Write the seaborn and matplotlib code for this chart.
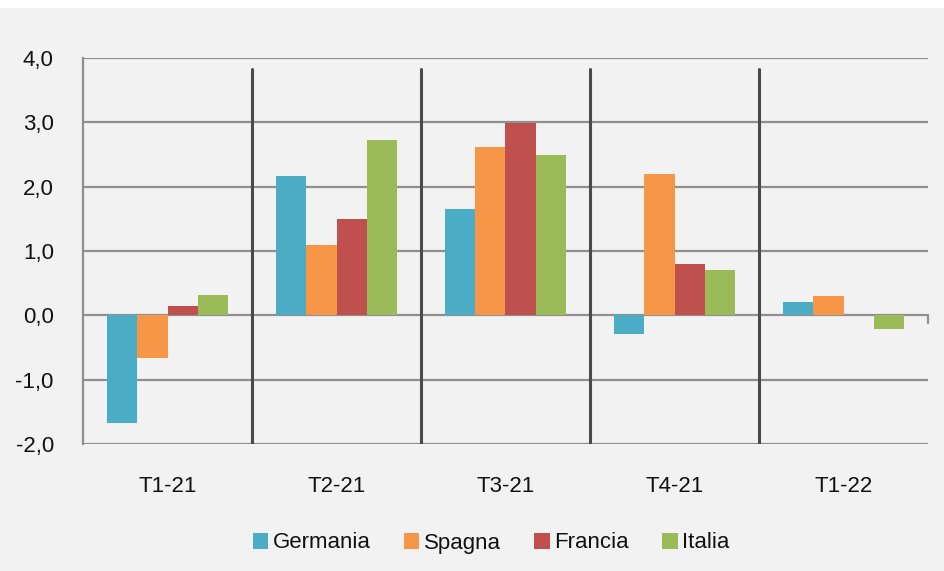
import pandas as pd
import seaborn as sns
import matplotlib.pyplot as plt
from matplotlib.patches import Rectangle

# data
trimestri = ['T1-21', 'T2-21', 'T3-21', 'T4-21', 'T1-22']
paesi = ['Germania', 'Spagna', 'Francia', 'Italia']
germania = [-1.68, 2.16, 1.66, -0.29, 0.20]
spagna = [-0.66, 1.10, 2.62, 2.20, 0.30]
francia = [0.14, 1.49, 2.99, 0.80, 0.00]
italia = [0.31, 2.73, 2.50, 0.71, -0.21]
colori = ['#4bacc6', '#f79646', '#c0504d', '#9bbb59']
yticks = [-2, -1, 0, 1, 2, 3, 4]

df = pd.DataFrame({
    'trimestre': trimestri * 4,
    'paese': [p for p in paesi for _ in trimestri],
    'valore': germania + spagna + francia + italia,
})

sns.set_theme(style='white')
plt.rcParams['font.family'] = ['Liberation Sans', 'DejaVu Sans']

bg = '#f2f2f2'
fig = plt.figure(figsize=(9.44, 5.71), dpi=100, facecolor=bg)
ax = fig.add_axes([83 / 944, 1 - 444 / 571, (928 - 83) / 944, (444 - 58) / 571])
ax.set_facecolor(bg)

# top white strip of the original picture
fig.patches.append(Rectangle((0, 1 - 8 / 571), 1, 8 / 571, transform=fig.transFigure,
                             facecolor='white', edgecolor='none', zorder=0))

sns.barplot(data=df, x='trimestre', y='valore', hue='paese', order=trimestri,
            hue_order=paesi, palette=colori, width=0.72, gap=0, saturation=1,
            errorbar=None, ax=ax, zorder=3, legend=False, linewidth=0,
            edgecolor='none')

grid_col = '#8f8f8f'
ax.set_ylim(-2, 4)
ax.set_xlim(-0.5, 4.5)
for v in yticks:
    ax.axhline(v, color=grid_col, lw=1.6, zorder=1)
# little tick at the right end of the zero line
ax.plot([4.5, 4.5], [0, -0.12], color=grid_col, lw=1.6, clip_on=False, zorder=1)

# dark separators between quarters
for x in [0.5, 1.5, 2.5, 3.5]:
    ax.axvline(x, ymin=0, ymax=(3.83 + 2) / 6, color='#4a4a4a', lw=2.2, zorder=2)

for s in ['top', 'right', 'bottom']:
    ax.spines[s].set_visible(False)
ax.spines['left'].set_color(grid_col)
ax.spines['left'].set_linewidth(1.6)

ax.set_yticks(yticks)
ax.set_yticklabels([f'{v:.1f}'.replace('.', ',') for v in yticks])
ax.tick_params(axis='y', length=0, pad=21, labelsize=16, labelcolor='#111111')
ax.tick_params(axis='x', length=0, pad=23, labelsize=16, labelcolor='#111111')
ax.set_xlabel('')
ax.set_ylabel('')

handles = [Rectangle((0, 0), 1, 1, facecolor=c, edgecolor='none') for c in colori]
fig.legend(handles, paesi, loc='center', bbox_to_anchor=(491 / 944, 1 - 543 / 571),
           ncol=4, frameon=False, fontsize=16, handlelength=0.7, handleheight=0.7,
           handletextpad=0.2, columnspacing=1.5, labelcolor='#111111')

fig.savefig('out.png', dpi=100, facecolor=bg)
